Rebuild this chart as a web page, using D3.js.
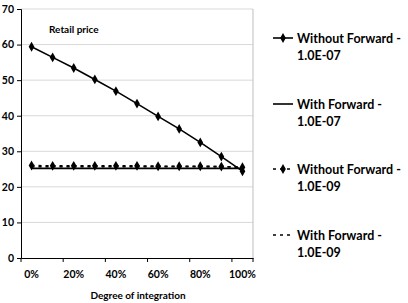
<!DOCTYPE html>
<html>
<head>
<meta charset="utf-8">
<script src="https://cdn.jsdelivr.net/npm/d3@7"></script>
<style>
  body { margin: 0; background: #fff; }
  svg text { font-family: Lato, "Open Sans", sans-serif; font-weight: bold; fill: #000; }
</style>
</head>
<body>
<div id="chart"></div>
<script>
var categories = ["0%", "10%", "20%", "30%", "40%", "50%", "60%", "70%", "80%", "90%", "100%"];
var withoutFwd07 = [59.4, 56.4, 53.4, 50.2, 46.9, 43.4, 39.8, 36.3, 32.5, 28.5, 24.4];
var withFwd07 = [25.2, 25.2, 25.2, 25.2, 25.2, 25.2, 25.2, 25.2, 25.2, 25.2, 25.2];
var withoutFwd09 = [26.0, 25.9, 25.9, 25.9, 25.9, 25.9, 25.8, 25.8, 25.8, 25.7, 25.5];
var withFwd09 = [25.7, 25.7, 25.7, 25.7, 25.7, 25.7, 25.7, 25.7, 25.7, 25.7, 25.6];
var yTicks = [0, 10, 20, 30, 40, 50, 60, 70];
var seriesNames = ["Without Forward - 1.0E-07", "With Forward - 1.0E-07",
                   "Without Forward - 1.0E-09", "With Forward - 1.0E-09"];

var W = 408, H = 303;
var m = {left: 21, right: 253, top: 9, bottom: 258};

var svg = d3.select("#chart").append("svg")
    .attr("width", W)
    .attr("height", H);

// scales
var x = d3.scaleBand().domain(categories).range([m.left, m.right]);
var y = d3.scaleLinear().domain([0, 70]).range([m.bottom, m.top]);
var cx = function(i) { return x(categories[i]) + x.bandwidth() / 2; };

// gridlines
svg.append("g").selectAll("line")
    .data(yTicks.slice(1))
    .enter().append("line")
    .attr("x1", m.left).attr("x2", m.right)
    .attr("y1", function(d) { return y(d); })
    .attr("y2", function(d) { return y(d); })
    .attr("stroke", "#d9d9d9");

// right border of plot
svg.append("line")
    .attr("x1", m.right).attr("x2", m.right)
    .attr("y1", m.top).attr("y2", m.bottom)
    .attr("stroke", "#bfbfbf");

// y axis
var yAxis = d3.axisLeft(y).tickValues(yTicks).tickSize(4).tickPadding(3);
var gy = svg.append("g")
    .attr("transform", "translate(" + m.left + ",0)")
    .call(yAxis);
gy.select(".domain").attr("stroke", "#000");
gy.selectAll("text").style("font-size", "10.5px");

// x axis: labels on every other category
var xAxis = d3.axisBottom(x)
    .tickValues(categories.filter(function(d, i) { return i % 2 == 0; }))
    .tickSize(0).tickPadding(13);
var gx = svg.append("g")
    .attr("transform", "translate(0," + m.bottom + ")")
    .call(xAxis);
gx.select(".domain").attr("stroke", "#000");
gx.selectAll("text").style("font-size", "10.5px");

// x tick marks between label groups
var tickPos = categories.filter(function(d, i) { return i % 2 == 0; }).map(function(d) { return x(d); });
tickPos.push(m.right);
gx.selectAll(".tk")
    .data(tickPos)
    .enter().append("line")
    .attr("class", "tk")
    .attr("x1", function(d) { return d; }).attr("x2", function(d) { return d; })
    .attr("y1", 0).attr("y2", 4)
    .attr("stroke", "#000");

// axis title and chart label
svg.append("text")
    .attr("x", (m.left + m.right) / 2 + 1)
    .attr("y", 299)
    .attr("text-anchor", "middle")
    .style("font-size", "10px")
    .text("Degree of integration");

svg.append("text")
    .attr("x", 49)
    .attr("y", 33)
    .style("font-size", "10px")
    .text("Retail price");

var line = d3.line()
    .x(function(d, i) { return cx(i); })
    .y(function(d) { return y(d); });

var diamond = d3.symbol().type(d3.symbolDiamond).size(28);

var series = [
    { name: seriesNames[0], values: withoutFwd07, dash: null, marker: true },
    { name: seriesNames[1], values: withFwd07, dash: null, marker: false },
    { name: seriesNames[2], values: withoutFwd09, dash: "3,4", marker: true },
    { name: seriesNames[3], values: withFwd09, dash: "3,4", marker: false }
];

series.forEach(function(s) {
    svg.append("path")
        .datum(s.values)
        .attr("d", line)
        .attr("fill", "none")
        .attr("stroke", "#000")
        .attr("stroke-width", 1.6)
        .attr("stroke-dasharray", s.dash);
    if (s.marker) {
        svg.append("g").selectAll("path")
            .data(s.values)
            .enter().append("path")
            .attr("d", diamond)
            .attr("transform", function(d, i) { return "translate(" + cx(i) + "," + y(d) + ")"; })
            .attr("fill", "#000");
    }
});

// legend
var legendY = [41, 107, 172, 238];
var lg = svg.append("g").selectAll("g")
    .data(series)
    .enter().append("g")
    .attr("transform", function(d, i) { return "translate(273," + legendY[i] + ")"; });

lg.append("line")
    .attr("x1", 0).attr("x2", 20)
    .attr("y1", -3).attr("y2", -3)
    .attr("stroke", "#000")
    .attr("stroke-width", 1.6)
    .attr("stroke-dasharray", function(d) { return d.dash; });

lg.filter(function(d) { return d.marker; })
    .append("path")
    .attr("d", diamond)
    .attr("transform", "translate(10,-3)");

lg.each(function(d) {
    var parts = d.name.split(" - ");
    var t = d3.select(this).append("text")
        .attr("x", 24)
        .attr("y", 2)
        .style("font-size", "12.5px");
    t.append("tspan").attr("x", 24).text(parts[0] + " -");
    t.append("tspan").attr("x", 24).attr("dy", 17).text(parts[1]);
});
</script>
</body>
</html>
